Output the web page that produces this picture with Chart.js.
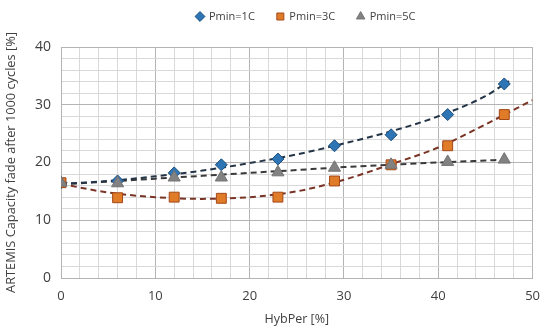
<!DOCTYPE html>
<html>
<head>
<meta charset="utf-8">
<script src="https://cdn.jsdelivr.net/npm/chart.js@4/dist/chart.umd.min.js"></script>
<style>
  body { margin: 0; background: #fff; }
  #wrap { width: 550px; height: 335px; }
</style>
</head>
<body>
<div id="wrap"><canvas id="myChart"></canvas></div>
<script>
// measured points (HybPer [%] vs capacity fade [%])
const hybPer = [0, 6, 12, 17, 23, 29, 35, 41, 47];
const pmin1C = [16.5, 16.8, 18.2, 19.6, 20.6, 22.9, 24.8, 28.3, 33.6];
const pmin3C = [16.5, 13.9, 14.0, 13.8, 14.0, 16.8, 19.6, 22.9, 28.3];
const pmin5C = [16.5, 16.4, 17.4, 17.4, 18.3, 19.1, 19.6, 20.1, 20.5];

// dashed trend lines
const trendX1 = [0, 5, 10, 15, 20, 25, 30, 35, 40, 45, 47.5];
const trend1C = [16.3, 16.8, 17.6, 18.6, 19.9, 21.4, 23.3, 25.4, 28.0, 31.5, 34.1];
const trendX3 = [0, 5, 10, 15, 20, 25, 30, 35, 40, 45, 50];
const trend3C = [16.3, 14.8, 14.0, 13.7, 14.0, 15.0, 17.0, 19.7, 22.6, 26.6, 30.8];
const trendX5 = [0, 5, 10, 15, 20, 25, 30, 35, 40, 47.5];
const trend5C = [16.2, 16.7, 17.2, 17.7, 18.2, 18.7, 19.2, 19.6, 20.0, 20.5];

const xTicks = [0, 10, 20, 30, 40, 50];
const yTicks = [0, 10, 20, 30, 40];

const toPts = (xs, ys) => xs.map((x, i) => ({ x: x, y: ys[i] }));

function trendSet(xs, ys, color) {
  return {
    label: 'trend',
    data: toPts(xs, ys),
    showLine: true,
    borderColor: color,
    borderWidth: 2,
    borderDash: [6, 4],
    pointRadius: 0,
    cubicInterpolationMode: 'monotone',
    fill: false,
    order: 5,
  };
}

const fontFam = '"Open Sans", "Noto Sans", sans-serif';
const textColor = '#404040';
const gridColor = ctx => (ctx.tick && ctx.tick.value % 10 === 0) ? '#b4b4b4' : '#d9d9d9';

// put the legend where the original has it (centred over the plot, near the top)
const legendMover = {
  id: 'legendMover',
  beforeInit(chart) {
    const lg = chart.legend;
    const origFit = lg.fit;
    lg.fit = function () {
      origFit.call(this);
      this.height = 40;
    };
  },
  afterLayout(chart) {
    const lg = chart.legend;
    const dx = 306 - (lg.left + lg.right) / 2;
    lg.left += dx;
    lg.right += dx;
    const dy = -11 - lg.top;
    lg.top += dy;
    lg.bottom += dy;
  },
};

new Chart(document.getElementById('myChart').getContext('2d'), {
  type: 'scatter',
  data: {
    datasets: [
      {
        label: 'Pmin=1C',
        data: toPts(hybPer, pmin1C),
        pointStyle: 'rectRot',
        pointRadius: 6,
        backgroundColor: '#2e75b6',
        borderColor: '#1f4e79',
        borderWidth: 1,
        order: 3,
      },
      {
        label: 'Pmin=3C',
        data: toPts(hybPer, pmin3C),
        pointStyle: 'rect',
        pointRadius: 7,
        backgroundColor: '#e07b28',
        borderColor: '#a4481a',
        borderWidth: 1,
        order: 2,
      },
      {
        label: 'Pmin=5C',
        data: toPts(hybPer, pmin5C),
        pointStyle: 'triangle',
        pointRadius: 7,
        backgroundColor: '#828282',
        borderColor: '#747474',
        borderWidth: 1,
        order: 1,
      },
      trendSet(trendX1, trend1C, '#243447'),
      trendSet(trendX3, trend3C, '#7a3426'),
      trendSet(trendX5, trend5C, '#3a3a3a'),
    ],
  },
  options: {
    responsive: true,
    maintainAspectRatio: false,
    animation: false,
    layout: { padding: { left: 4, right: 14, top: 7, bottom: 6 } },
    plugins: {
      legend: {
        position: 'top',
        labels: {
          usePointStyle: true,
          boxWidth: 7,
          boxHeight: 7,
          padding: 22,
          color: textColor,
          font: { family: fontFam, size: 11 },
          filter: item => item.text !== 'trend',
          sort: (a, b) => a.datasetIndex - b.datasetIndex,
        },
      },
      tooltip: { enabled: false },
    },
    scales: {
      x: {
        min: 0,
        max: 50,
        afterFit: scale => { scale.height = 335 - 278 - 6; },
        ticks: {
          stepSize: 2,
          maxTicksLimit: 40,
          autoSkip: false,
          maxRotation: 0,
          padding: 10,
          color: textColor,
          font: { family: fontFam, size: 13 },
          callback: v => xTicks.includes(v) ? String(v) : '',
        },
        grid: { color: gridColor, drawTicks: false },
        border: { color: '#b4b4b4' },
        title: {
          display: true,
          text: 'HybPer [%]',
          color: textColor,
          font: { family: fontFam, size: 12.5 },
          padding: { top: 0, bottom: 2 },
        },
      },
      y: {
        min: 0,
        max: 40,
        afterFit: scale => { scale.width = 61 - 4; },
        ticks: {
          stepSize: 2,
          maxTicksLimit: 40,
          autoSkip: false,
          padding: 10,
          color: textColor,
          font: { family: fontFam, size: 14 },
          callback: v => yTicks.includes(v) ? String(v) : '',
        },
        grid: { color: gridColor, drawTicks: false },
        border: { color: '#b4b4b4' },
        title: {
          display: true,
          text: 'ARTEMIS Capacity fade after 1000 cycles [%]',
          color: textColor,
          font: { family: fontFam, size: 12.8 },
          padding: { top: 0, bottom: 4 },
        },
      },
    },
  },
  plugins: [legendMover],
});
</script>
</body>
</html>
